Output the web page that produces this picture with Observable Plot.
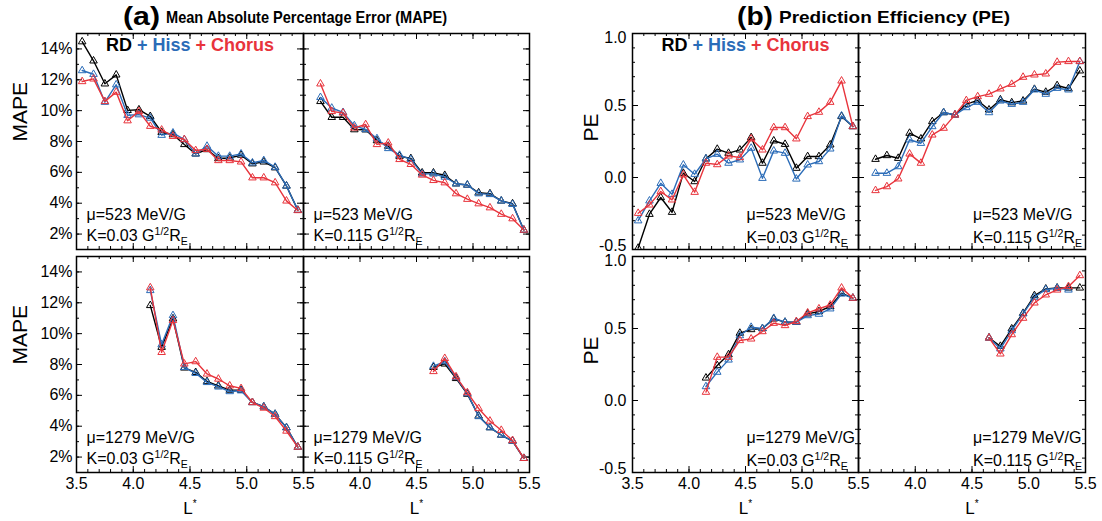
<!DOCTYPE html>
<html><head><meta charset="utf-8">
<script src="https://cdn.jsdelivr.net/npm/d3@7"></script>
<script src="https://cdn.jsdelivr.net/npm/@observablehq/plot@0.6"></script>
<style>
html,body{margin:0;padding:0;background:#fff;}
#root{position:relative;width:1102px;height:521px;overflow:hidden;font-family:"Liberation Sans",Arial,Helvetica,sans-serif;}
#root svg{position:absolute;max-width:none;}
.tpart{position:absolute;white-space:nowrap;font-weight:bold;line-height:1;transform-origin:0 50%;color:#000;}
</style></head><body><div id="root"></div><script>
// ---------- data ----------
const L_523_003   = [3.55,3.65,3.75,3.85,3.95,4.05,4.15,4.25,4.35,4.45,4.55,4.65,4.75,4.85,4.95,5.05,5.15,5.25,5.35,5.45];
const L_523_0115  = [3.65,3.75,3.85,3.95,4.05,4.15,4.25,4.35,4.45,4.55,4.65,4.75,4.85,4.95,5.05,5.15,5.25,5.35,5.45];
const L_1279_003  = [4.15,4.25,4.35,4.45,4.55,4.65,4.75,4.85,4.95,5.05,5.15,5.25,5.35,5.45];
const L_1279_0115 = [4.65,4.75,4.85,4.95,5.05,5.15,5.25,5.35,5.45];
const L_1279_0115_hiss = [4.65,4.75,4.85,4.95,5.05,5.15,5.25,5.35];

// MAPE (%)
const mape_523_003_RD     = [14.47,13.23,11.74,12.32,10.02,10.06,9.63,8.6,8.45,7.81,7.2,7.48,6.9,6.93,7.12,6.56,6.68,6.3,5.12,3.55];
const mape_523_003_Hiss   = [12.6,12.36,10.55,11.68,9.7,9.74,9.52,8.41,8.56,8.13,7.2,7.7,7.05,7.05,7.2,6.62,6.77,6.34,5.12,3.55];
const mape_523_003_Chorus = [11.89,12.06,10.6,11.2,9.35,9.95,8.99,8.75,8.34,8.13,7.42,7.5,6.77,6.77,6.68,5.65,5.65,5.33,4.15,3.53];

const mape_523_0115_RD     = [10.6,9.57,9.57,8.77,8.76,8.06,7.7,7.05,6.9,5.97,5.97,5.81,5.26,5.18,4.68,4.62,4.15,3.97,2.26];
const mape_523_0115_Hiss   = [10.86,10.17,9.89,9.03,8.78,8.19,7.55,7.12,6.84,5.9,5.9,5.7,5.26,5.18,4.62,4.57,4.15,3.93,2.26];
const mape_523_0115_Chorus = [11.74,9.95,9.85,8.88,9.1,7.81,7.91,6.84,6.52,5.83,5.48,5.33,4.62,4.26,3.97,3.71,3.29,3.0,2.26];

const mape_1279_003_RD     = [11.83,9.12,10.97,7.78,7.49,6.9,6.62,6.34,6.34,5.54,5.26,4.78,3.91,2.65];
const mape_1279_003_Hiss   = [12.8,9.29,11.18,7.82,7.43,6.84,6.55,6.25,6.3,5.54,5.26,4.78,3.91,2.65];
const mape_1279_003_Chorus = [12.98,8.79,10.86,8.04,8.19,7.39,7.06,6.62,6.45,5.54,5.18,4.63,3.69,2.65];

const mape_1279_0115_RD     = [7.82,8.04,7.1,6.08,4.67,3.91,3.43,3.04,1.92];
const mape_1279_0115_Hiss   = [7.89,8.19,7.17,6.12,4.63,3.91,3.43,3.04,1.92];
const mape_1279_0115_Chorus = [7.55,8.4,7.21,6.18,5.15,4.34,3.74,3.08,1.92];

// PE
const pe_523_003_RD     = [-0.49,-0.255,-0.139,-0.241,0.03,-0.028,0.13,0.197,0.169,0.192,0.278,0.1,0.255,0.231,0.065,0.146,0.146,0.227,0.424,0.354];
const pe_523_003_Hiss   = [-0.30,-0.162,-0.04,-0.116,0.088,0.023,0.13,0.162,0.1,0.123,0.204,-0.005,0.185,0.169,-0.01,0.088,0.111,0.199,0.428,0.354];
const pe_523_003_Chorus = [-0.248,-0.19,-0.097,-0.155,0.019,-0.102,0.1,0.09,0.15,0.139,0.269,0.192,0.347,0.347,0.269,0.424,0.454,0.523,0.671,0.354];

const pe_523_0115_RD     = [0.127,0.153,0.134,0.308,0.269,0.389,0.451,0.435,0.509,0.535,0.47,0.54,0.52,0.532,0.613,0.593,0.639,0.618,0.741];
const pe_523_0115_Hiss   = [0.03,0.03,0.076,0.262,0.238,0.354,0.451,0.435,0.486,0.523,0.451,0.532,0.509,0.523,0.609,0.579,0.62,0.609,0.806];
const pe_523_0115_Chorus = [-0.09,-0.063,-0.009,0.164,0.1,0.296,0.343,0.435,0.535,0.562,0.579,0.616,0.648,0.697,0.713,0.72,0.801,0.806,0.806];

const pe_1279_003_RD     = [0.157,0.243,0.319,0.468,0.493,0.5,0.567,0.544,0.544,0.602,0.618,0.653,0.745,0.711];
const pe_1279_003_Hiss   = [0.097,0.197,0.282,0.451,0.509,0.5,0.571,0.544,0.544,0.59,0.6,0.637,0.74,0.711];
const pe_1279_003_Chorus = [0.058,0.301,0.301,0.417,0.428,0.479,0.537,0.521,0.549,0.609,0.637,0.664,0.782,0.711];

const pe_1279_0115_RD     = [0.435,0.377,0.498,0.606,0.729,0.775,0.782,0.782,0.782];
const pe_1279_0115_Hiss   = [0.435,0.359,0.486,0.602,0.718,0.771,0.78,0.768];
const pe_1279_0115_Chorus = [0.435,0.324,0.458,0.572,0.678,0.734,0.768,0.792,0.868];

// tick labels / text
const X_TICKS = [3.5,4.0,4.5,5.0,5.5];
const MAPE_TICKS = [2,4,6,8,10,12,14];
const PE_TICKS = [-0.5,0.0,0.5,1.0];
const MU_LABELS = ["μ=523 MeV/G","μ=1279 MeV/G"];
const K_LABELS = ["0.03","0.115"];
const COLORS = {RD:"#000000", Hiss:"#2b6cb8", Chorus:"#e8343c"};

// ---------- layout ----------
const root = document.getElementById("root");
const ML=90, MR=14, MT=14, MB=56;
const X_MINOR = d3.range(35,56).map(i=>i/10);
const MAPE_MINOR = d3.range(1,16);
const PE_MINOR = d3.range(-5,11).map(i=>i/10);

function setParts(t, parts){
  const NS="http://www.w3.org/2000/svg";
  while(t.firstChild) t.removeChild(t.firstChild);
  let cur=0;
  for(const p of parts){
    const ts=document.createElementNS(NS,"tspan");
    const off=p.off||0;
    if(off!==cur){ ts.setAttribute("dy", off-cur); cur=off; }
    if(p.size) ts.setAttribute("font-size", p.size);
    if(p.fill) ts.setAttribute("fill", p.fill);
    ts.textContent=p.text;
    t.appendChild(ts);
  }
}
function richText(svg){
  svg.querySelectorAll("text").forEach(t=>{
    const s=t.textContent;
    if(s==="L*") setParts(t,[{text:"L"},{text:"*",off:-7,size:10}]);
    else if(s.startsWith("K=")) setParts(t,[{text:s.slice(0,s.indexOf("G")+1)},{text:"1/2",off:-6,size:10.5},{text:"R",off:0},{text:"E",off:4,size:10.5}]);
    else if(s==="RD + Hiss + Chorus") setParts(t,[{text:"RD ",fill:COLORS.RD},{text:"+ Hiss ",fill:COLORS.Hiss},{text:"+ Chorus",fill:COLORS.Chorus}]);
  });
}

function panel(c){
  const fw=c.x1-c.x0, fh=c.y1-c.y0;
  const isMape=c.kind==="mape";
  const yMaj=isMape?MAPE_TICKS:PE_TICKS, yMin=isMape?MAPE_MINOR:PE_MINOR;
  const marks=[];
  // inward ticks on all four sides
  for(const [arr,len] of [[X_MINOR,3],[X_TICKS,6]]){
    marks.push(Plot.tickX(arr,{x:d=>d,insetTop:fh-len,stroke:"#000"}));
    marks.push(Plot.tickX(arr,{x:d=>d,insetBottom:fh-len,stroke:"#000"}));
  }
  for(const [arr,len] of [[yMin,3],[yMaj,6]]){
    marks.push(Plot.tickY(arr,{y:d=>d,insetRight:fw-len,stroke:"#000"}));
    marks.push(Plot.tickY(arr,{y:d=>d,insetLeft:fw-len,stroke:"#000"}));
  }
  for(const s of c.series){
    const data=s.L.map((L,i)=>({L,v:s.v[i]}));
    marks.push(Plot.line(data,{x:"L",y:"v",stroke:s.color,strokeWidth:1.4,clip:true}));
    marks.push(Plot.dot(data,{x:"L",y:"v",symbol:"triangle",r:2.8,stroke:s.color,fill:"none",strokeWidth:1,clip:true}));
  }
  marks.push(Plot.frame({stroke:"#000",strokeWidth:1.5}));
  if(c.showY){
    if(isMape){
      marks.push(Plot.axisY(yMaj,{tickSize:0,tickPadding:4,label:null,fontSize:16,tickFormat:d=>d+"%"}));
    } else {
      const fmt=d=>d.toFixed(1);
      const lo=yMaj[0], hi=yMaj[yMaj.length-1];
      marks.push(Plot.axisY(yMaj.filter(d=>d!==lo&&d!==hi),{tickSize:0,tickPadding:6,label:null,fontSize:16,tickFormat:fmt}));
      marks.push(Plot.axisY([hi],{tickSize:0,tickPadding:6,label:null,fontSize:16,tickFormat:fmt,dy:4}));
      marks.push(Plot.axisY([lo],{tickSize:0,tickPadding:6,label:null,fontSize:16,tickFormat:fmt,dy:-4}));
    }
    marks.push(Plot.text([isMape?"MAPE":"PE"],{text:d=>d,frameAnchor:"left",rotate:-90,dx:isMape?-56:-41,fontSize:21,lineAnchor:"middle"}));
  }
  if(c.showX){
    marks.push(Plot.axisX(c.xLabels,{tickSize:0,tickPadding:5,label:null,fontSize:16,tickFormat:d=>d.toFixed(1)}));
    marks.push(Plot.text(["L*"],{text:d=>d,frameAnchor:"bottom",dy:36,fontSize:17,lineAnchor:"middle"}));
  }
  if(c.legend){
    marks.push(Plot.text(["RD + Hiss + Chorus"],{text:d=>d,frameAnchor:"top",dy:12,fontSize:18,fontWeight:"bold",lineAnchor:"middle"}));
  }
  const anchor=isMape?"bottom-left":"bottom";
  const adx=isMape?10:1;
  marks.push(Plot.text([c.mu],{text:d=>d,frameAnchor:anchor,textAnchor:"start",dx:adx,dy:-35,fontSize:16,lineAnchor:"middle"}));
  marks.push(Plot.text(["K="+c.k+" G"],{text:d=>d,frameAnchor:anchor,textAnchor:"start",dx:adx,dy:isMape?-14:-12,fontSize:16,lineAnchor:"middle"}));

  const svg=Plot.plot({
    width:ML+fw+MR,height:MT+fh+MB,
    marginLeft:ML,marginRight:MR,marginTop:MT,marginBottom:MB,
    x:{domain:[3.5,5.5],axis:null},
    y:{domain:isMape?[1,15]:[-0.5,1.0],axis:null},
    style:{background:"transparent",fontFamily:'"Liberation Sans",Arial,Helvetica,sans-serif',fontSize:"16px",color:"#000",overflow:"visible"},
    marks
  });
  svg.style.left=(c.x0-ML)+"px";
  svg.style.top=(c.y0-MT)+"px";
  richText(svg);
  root.appendChild(svg);
}

function ser(L,rd,hiss,chorus,Lh){
  return [
    {L,v:rd,color:COLORS.RD},
    {L:Lh||L,v:hiss,color:COLORS.Hiss},
    {L,v:chorus,color:COLORS.Chorus}
  ];
}

const ROWS=[[32.5,248.5],[256,472]];
const A_COLS=[[76,303],[303,529]];
const B_COLS=[[632,858],[858,1085]];

const groups=[
  {kind:"mape",cols:A_COLS,data:[
    [ser(L_523_003,mape_523_003_RD,mape_523_003_Hiss,mape_523_003_Chorus), ser(L_523_0115,mape_523_0115_RD,mape_523_0115_Hiss,mape_523_0115_Chorus)],
    [ser(L_1279_003,mape_1279_003_RD,mape_1279_003_Hiss,mape_1279_003_Chorus), ser(L_1279_0115,mape_1279_0115_RD,mape_1279_0115_Hiss,mape_1279_0115_Chorus)]
  ]},
  {kind:"pe",cols:B_COLS,data:[
    [ser(L_523_003,pe_523_003_RD,pe_523_003_Hiss,pe_523_003_Chorus), ser(L_523_0115,pe_523_0115_RD,pe_523_0115_Hiss,pe_523_0115_Chorus)],
    [ser(L_1279_003,pe_1279_003_RD,pe_1279_003_Hiss,pe_1279_003_Chorus), ser(L_1279_0115,pe_1279_0115_RD,pe_1279_0115_Hiss,pe_1279_0115_Chorus,L_1279_0115_hiss)]
  ]}
];

for(const g of groups){
  for(let r=0;r<2;r++){
    for(let col=0;col<2;col++){
      panel({
        kind:g.kind,
        x0:g.cols[col][0],x1:g.cols[col][1],y0:ROWS[r][0],y1:ROWS[r][1],
        series:g.data[r][col],
        showY:col===0, showX:r===1,
        xLabels:col===0?X_TICKS:X_TICKS.slice(1),
        legend:r===0&&col===0,
        mu:MU_LABELS[r], k:K_LABELS[col]
      });
    }
  }
}

// ---------- titles ----------
const TITLES=[
  {text:"(a)",x:123,w:37,size:26,cy:16},
  {text:"Mean Absolute Percentage Error (MAPE)",x:166,w:281,size:17,cy:17},
  {text:"(b)",x:737,w:36,size:26,cy:16},
  {text:"Prediction Efficiency (PE)",x:779,w:231,size:17,cy:17}
];
for(const t of TITLES){
  const d=document.createElement("div");
  d.className="tpart";
  d.textContent=t.text;
  d.style.fontSize=t.size+"px";
  d.style.left=t.x+"px";
  d.style.top=(t.cy-t.size/2)+"px";
  root.appendChild(d);
  const w=d.getBoundingClientRect().width;
  d.style.transform="scaleX("+(t.w/w)+")";
}
</script></body></html>
